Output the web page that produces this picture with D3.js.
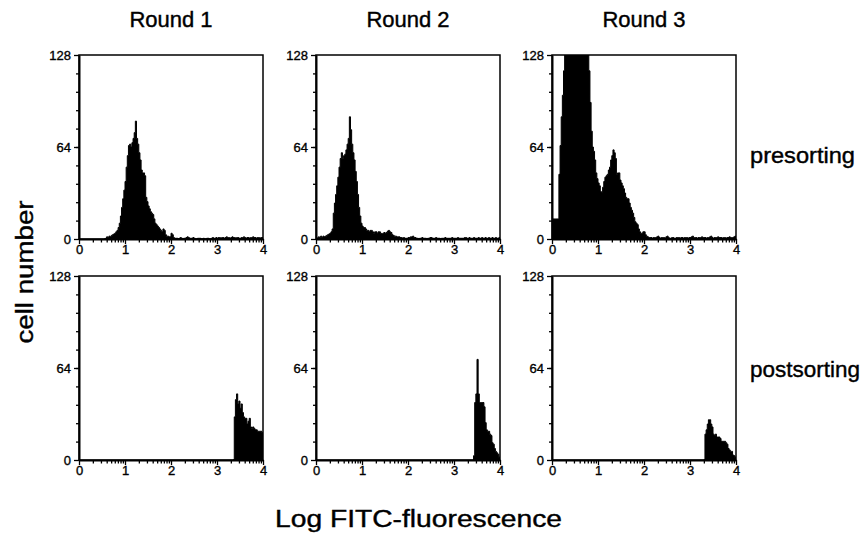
<!DOCTYPE html>
<html><head><meta charset="utf-8">
<script src="https://cdn.jsdelivr.net/npm/d3@7"></script>
<style>
body{margin:0;background:#fff}
text{font-family:"Liberation Sans",Arial,Helvetica,sans-serif;fill:#000}
</style>
</head><body>
<svg id="c" width="868" height="543"></svg>
<script>
// ---------- data ----------
const rounds = ["Round 1", "Round 2", "Round 3"];
const stages = ["presorting", "postsorting"];
const yTickLabels = [0, 64, 128];
const xTickLabels = [0, 1, 2, 3, 4];
const xMinorMultipliers = [2, 3, 4, 5, 6, 7, 8, 9];
const yMinorCount = 10;
const binStep = 0.025; // log-decade units per channel

const r1PreStart = 0.55;
const r1PreCounts = [0,0.5,1.5,1,2,1.5,2.5,3,3.5,4,
  5,6,8,11,16,22,28,34,40,50,
  58,65,66,64,67,70,74,82,70,66,
  60,55,48,46,46,44,29,26,23,21,
  19,18,17,14,11,10,9,8,7,6,
  5,7,6,3,2,2,1.5,1.5,4,3,
  1,0.5,0.5,
  0.5,0,0.5,1,0.5,0,0.5,0.5,1,1.5,1,0.5,0.5,0.5,1,0.5,0,0,0.5,0.5,
  0.5,0,0,0.5,0,0,0.5,0.5,0,0,0.5,1,0.5,0.5,1,0.5,1,1,0.5,1,
  1,0.5,1,1.5,1,1,0.5,1,1.5,1,
  1,0.5,1,1,0.5,0.5,1,1,1.5,1,
  0.5,1,1,0.5,1,1,1.5,1,1,0.5,
  1,1,0.5,1,1];

const r2PreStart = 0;
const r2PreCounts = [1,0.5,1.5,1,2,1,2,1.5,2,2.5,
  3,3.5,4,5,7,18,25,31,37,43,
  50,56,60,56,58,59,62,66,70,85,
  76,66,60,55,47,40,31,22,16,11,
  9,8,8,7,6,6,5,6,6,5,
  4,5,5,4,5,5,4,3.5,4,4.5,
  4,4.5,5.5,6,5,4.5,3,2.5,2,2,
  1.5,1.5,1.5,1,1,0.5,1,0.5,0.5,0.5,
  1,1,1.5,1.5,2,1,
  1,0.5,0.5,0,0.5,0.5,1,0.5,0.5,0.5,
  0,0.5,0.5,1,1,0.5,0.5,0.5,1,0.5,
  0.5,0.5,0,0.5,0.5,0.5,1,0.5,0.5,0.5,
  0.5,0.5,1,0.5,0.5,0.5,0.5,1,0.5,0.5,
  0.5,0.5,0.5,1,1,0.5,0.5,1,0.5,0.5,
  0.5,1,0.5,0.5,0.5,1,0.5,0.5,1,0.5,
  0.5,1,0.5,0.5,1,0.5,0.5,1,0.5,0.5,
  1,0.5,0.5,1];

const r3PreStart = 0;
const r3PreCounts = [14,14,14,14,14,14,45,65,85,100,
  117,128,128,128,128,128,128,128,128,128,
  128,128,128,128,128,128,128,128,128,128,
  128,128,117,95,75,64,61,55,46,42,
  39,37,33,32,36,40,43,44,45,48,
  50,55,58,62,60,56,45,46,46,41,
  39,37,35,32,29,28,28,25,22,20,
  18,15,12,11,10,7,5,4,4,5,
  5,3,2,1.5,1,
  1,1,0.5,1,1,1,1.5,2,1,0.5,
  1,1,1,0.5,1.5,2,1,0.5,0.5,1,
  1,0.5,0.5,1,1,1,0.5,1,1,0.5,
  1,1,1,0.5,1,1,1.5,2,1,1,
  1,0.5,1,1,1,1.5,1,1,1,0.5,
  1,1,1.5,2,1,0.5,1,1,1,1.5,
  1,1,1,0.5,1,1,0.5,1,1,1.5,
  1,1,1,1.5,2];

const r1PostStart = 3.35;
const r1PostCounts = [0,30,42,46,39,41,36,39,33,30,29,29,25,27,29,23,22,23,22,21,21,20,20,20,20,19];

const r2PostStart = 3.425;
const r2PostCounts = [3,40,46,70,46,40,40,40,40,37,26,21,20,20,18,17,12,11,8,6,5,4,2];

const r3PostStart = 3.3;
const r3PostCounts = [0,18,21,25,28,28,25,23,18,17,18,16,16,16,15,13,13,13,13,12,11,8,7,6,6,3.5,3,2];

// ---------- layout ----------
const colX = [79, 316, 552];
const rowY = [55, 276];
const pw = 184, ph = 184;

const panels = [
  {col:0,row:0,start:r1PreStart,counts:r1PreCounts},
  {col:1,row:0,start:r2PreStart,counts:r2PreCounts},
  {col:2,row:0,start:r3PreStart,counts:r3PreCounts},
  {col:0,row:1,start:r1PostStart,counts:r1PostCounts},
  {col:1,row:1,start:r2PostStart,counts:r2PostCounts},
  {col:2,row:1,start:r3PostStart,counts:r3PostCounts}
];

const svg = d3.select("#c");
const defs = svg.append("defs");

const xMinor = [];
xTickLabels.slice(0, -1).forEach(d => xMinorMultipliers.forEach(m => xMinor.push(d + Math.log10(m))));
const yMinor = d3.range(1, yMinorCount).map(k => k * 128 / yMinorCount);

panels.forEach((p, i) => {
  const x0 = colX[p.col], y0 = rowY[p.row];
  const x = d3.scaleLinear().domain([0, 4]).range([x0, x0 + pw]);
  const y = d3.scaleLinear().domain([0, 128]).range([y0 + ph, y0]);
  const g = svg.append("g");

  defs.append("clipPath").attr("id", "clip" + i)
    .append("rect").attr("x", x0).attr("y", y0).attr("width", pw).attr("height", ph);

  const pts = p.counts.map((c, k) => ({v: p.start + k * binStep, c}));
  pts.push({v: p.start + p.counts.length * binStep, c: 0});
  const area = d3.area().curve(d3.curveStepAfter)
    .x(d => x(d.v)).y0(y(0)).y1(d => y(d.c));
  g.append("path").datum(pts).attr("d", area)
    .attr("clip-path", `url(#clip${i})`)
    .attr("fill", "#000").attr("stroke", "#000").attr("stroke-width", 1)
    .attr("stroke-linejoin", "round");

  // frame
  g.append("rect").attr("x", x0).attr("y", y0).attr("width", pw).attr("height", ph)
    .attr("fill", "none").attr("stroke", "#000").attr("stroke-width", 1.5);

  // x axis
  const xa = g.append("g").attr("transform", `translate(0,${y0 + ph})`)
    .call(d3.axisBottom(x).tickValues(xTickLabels).tickSize(5).tickPadding(1)
      .tickSizeOuter(0).tickFormat(d3.format("d")));
  g.append("g").attr("transform", `translate(0,${y0 + ph})`)
    .call(d3.axisBottom(x).tickValues(xMinor).tickSize(3.5).tickSizeOuter(0).tickFormat(""))
    .call(s => s.select(".domain").remove());

  // y axis
  const ya = g.append("g").attr("transform", `translate(${x0},0)`)
    .call(d3.axisLeft(y).tickValues(yTickLabels).tickSize(5).tickPadding(3)
      .tickSizeOuter(0).tickFormat(d3.format("d")));
  g.append("g").attr("transform", `translate(${x0},0)`)
    .call(d3.axisLeft(y).tickValues(yMinor).tickSize(3).tickSizeOuter(0).tickFormat(""))
    .call(s => s.select(".domain").remove());

  [xa, ya].forEach(a => {
    a.select(".domain").attr("stroke-width", 2);
    a.selectAll(".tick text").attr("font-size", 13)
      .attr("font-family", '"Liberation Sans",Arial,sans-serif')
      .attr("stroke", "#000").attr("stroke-width", 0.35);
  });
  g.selectAll(".tick line").attr("stroke-width", 1.3);
});

// titles
rounds.forEach((r, i) => {
  svg.append("text").attr("x", colX[i] + pw / 2).attr("y", 27)
    .attr("text-anchor", "middle").attr("font-size", 22)
    .attr("stroke", "#000").attr("stroke-width", 0.4).text(r);
});
// row labels
const rowBase = [163, 377];
stages.forEach((s, i) => {
  svg.append("text").attr("x", 750).attr("y", rowBase[i])
    .attr("font-size", 22.5).attr("textLength", i === 0 ? 105 : 110)
    .attr("lengthAdjust", "spacingAndGlyphs")
    .attr("stroke", "#000").attr("stroke-width", 0.4).text(s);
});
// axis titles
svg.append("text").attr("transform", "translate(33,272) rotate(-90)")
  .attr("text-anchor", "middle").attr("font-size", 23)
  .attr("textLength", 143).attr("lengthAdjust", "spacingAndGlyphs")
  .attr("stroke", "#000").attr("stroke-width", 0.4).text("cell number");
svg.append("text").attr("x", 418.5).attr("y", 527)
  .attr("text-anchor", "middle").attr("font-size", 23)
  .attr("textLength", 287).attr("lengthAdjust", "spacingAndGlyphs")
  .attr("stroke", "#000").attr("stroke-width", 0.4).text("Log FITC-fluorescence");
</script>
</body></html>
